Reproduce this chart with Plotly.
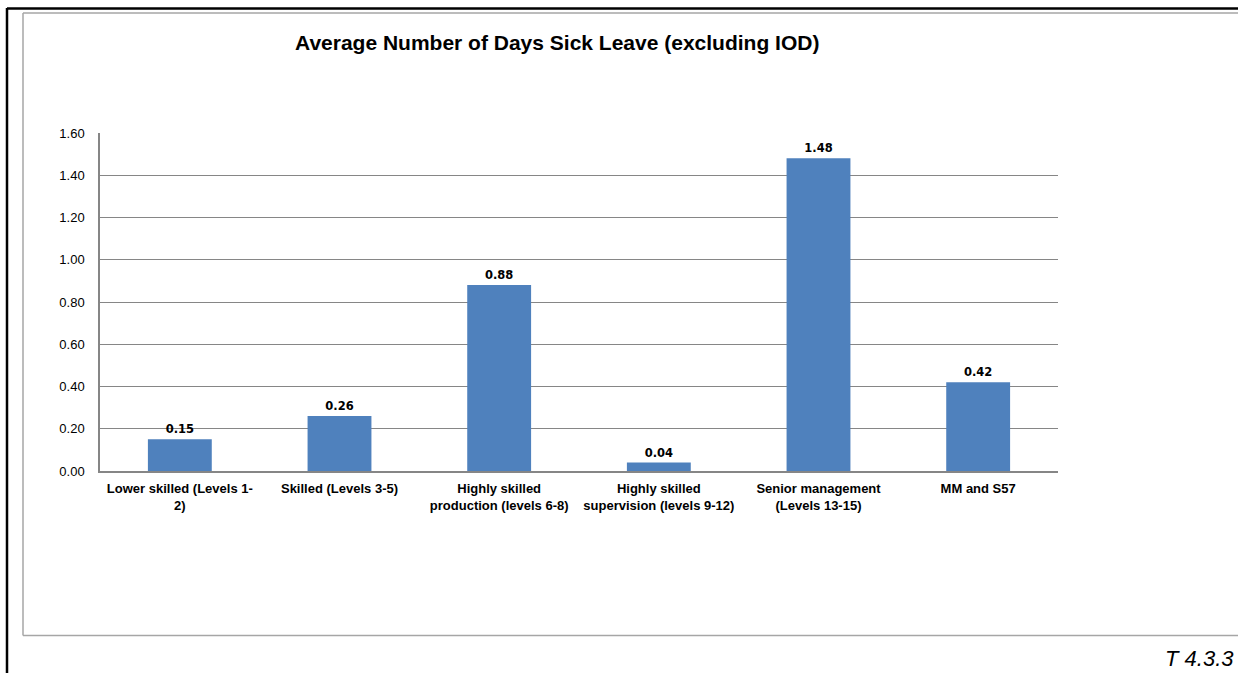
import plotly.graph_objects as go

categories = [
    "Lower skilled (Levels 1-<br>2)",
    "Skilled (Levels 3-5)",
    "Highly skilled<br>production (levels 6-8)",
    "Highly skilled<br>supervision (levels 9-12)",
    "Senior management<br>(Levels 13-15)",
    "MM and S57",
]
values = [0.15, 0.26, 0.88, 0.04, 1.48, 0.42]
y_ticks = [0, 0.2, 0.4, 0.6, 0.8, 1.0, 1.2, 1.4, 1.6]

W, H = 1238, 673
FONT = "Liberation Sans, Arial, sans-serif"

fig = go.Figure(go.Bar(
    x=categories,
    y=values,
    marker=dict(color="#4F81BD", line=dict(width=0)),
    width=0.4,
    text=[f"{v:.2f}" for v in values],
    textposition="outside",
    cliponaxis=False,
    textfont=dict(family="DejaVu Sans, Verdana, sans-serif", size=11.5, color="#000000", weight="bold"),
))

# plot area in pixels
L, R, T, B = 100, 180, 133, 202
pw, ph = W - L - R, H - T - B

def fx(x):
    return (x - L) / pw

def fy(y):
    return (H - B - y) / ph

shapes = [
    # black frame, top and left
    dict(type="line", xref="paper", yref="paper", x0=fx(7), x1=fx(1240), y0=fy(8.5), y1=fy(8.5),
         line=dict(color="#000000", width=2.5)),
    dict(type="line", xref="paper", yref="paper", x0=fx(7), x1=fx(7), y0=fy(8), y1=fy(675),
         line=dict(color="#000000", width=2.5)),
    # grey chart area frame
    dict(type="line", xref="paper", yref="paper", x0=fx(23), x1=fx(1240), y0=fy(13), y1=fy(13),
         line=dict(color="#A6A6A6", width=1.5)),
    dict(type="line", xref="paper", yref="paper", x0=fx(23), x1=fx(23), y0=fy(13), y1=fy(635.5),
         line=dict(color="#A6A6A6", width=1.5)),
    dict(type="line", xref="paper", yref="paper", x0=fx(23), x1=fx(1240), y0=fy(635.5), y1=fy(635.5),
         line=dict(color="#A6A6A6", width=1.5)),
]

annotations = [
    dict(text="<b>Average Number of Days Sick Leave (excluding IOD)</b>", xref="paper", yref="paper",
         x=fx(557), y=fy(42), xanchor="center", yanchor="middle", showarrow=False,
         font=dict(family=FONT, size=21, color="#000000")),
    dict(text="<i>T 4.3.3</i>", xref="paper", yref="paper",
         x=fx(1236), y=fy(658), xanchor="right", yanchor="middle", showarrow=False,
         font=dict(family="Liberation Sans Narrow, Arial Narrow, sans-serif", size=22, color="#000000")),
]

fig.update_layout(
    width=W, height=H,
    margin=dict(l=L, r=R, t=T, b=B, autoexpand=False),
    paper_bgcolor="#FFFFFF",
    plot_bgcolor="#FFFFFF",
    showlegend=False,
    shapes=shapes,
    annotations=annotations,
    xaxis=dict(
        showline=True, linecolor="#868686", linewidth=1.5,
        ticks="", showgrid=False, ticklabelstandoff=5,
        tickfont=dict(family=FONT, size=13, color="#000000", weight="bold"),
    ),
    yaxis=dict(
        range=[0, 1.6], tickvals=y_ticks, tickformat=".2f",
        showline=True, linecolor="#868686", linewidth=1.5,
        showgrid=True, gridcolor="#868686", gridwidth=1,
        zeroline=False, ticks="", ticklabelstandoff=11,
        tickfont=dict(family=FONT, size=13, color="#000000"),
    ),
)

fig.write_html("out.html", config={"displayModeBar": False},
               post_script="document.body.style.margin='0';")
